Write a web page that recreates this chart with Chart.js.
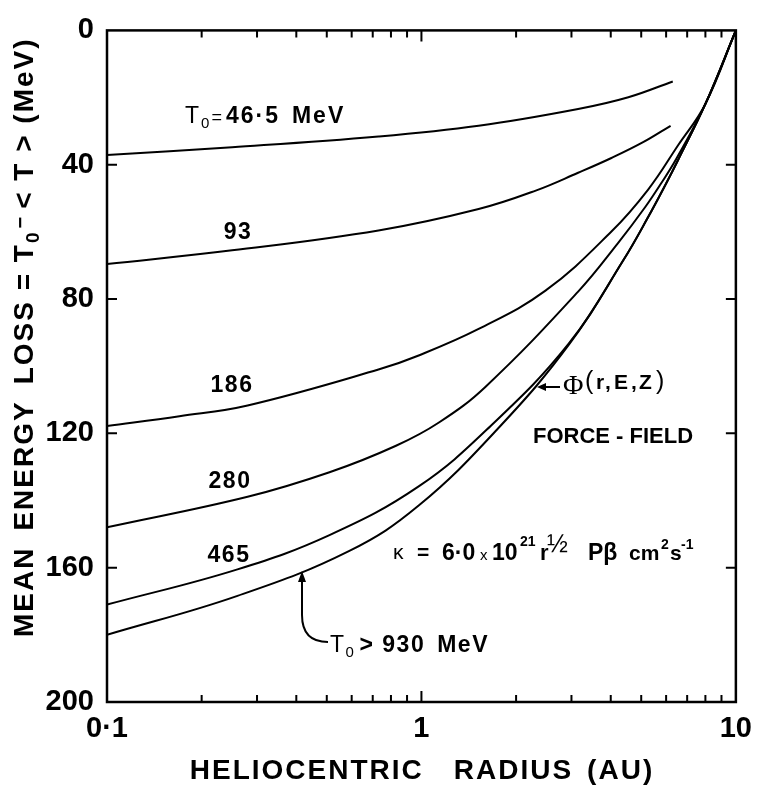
<!DOCTYPE html>
<html lang="en">
<head>
<meta charset="UTF-8">
<title>Mean energy loss vs heliocentric radius</title>
<style>
  html, body { margin: 0; padding: 0; background: #fff; }
  #chart { display: block; }
</style>
</head>
<body>
<canvas id="chart" width="762" height="786"></canvas>
<script src="https://cdn.jsdelivr.net/npm/chart.js"></script>
<script>
// values: radius in AU, loss in MeV
const rT46 = [0.1, 0.25, 0.73, 1.52, 3.15, 4.55, 6.3];
const lossT46 = [37.1, 34.8, 31.6, 28.4, 23.4, 19.9, 15.2];

const rT93 = [0.1, 0.25, 0.73, 1.52, 2.31, 3.15, 4.02, 5.07, 6.2];
const lossT93 = [69.6, 65.5, 59.6, 53.2, 47.7, 42.4, 38.0, 33.3, 28.4];

const rT186 = [0.1, 0.17, 0.28, 0.73, 0.98, 1.52, 2.48, 4.02, 5.26, 6.55, 8.0, 10];
const lossT186 = [117.8, 114.9, 111.7, 101.0, 96.8, 88.9, 77.5, 59.9, 47.4, 34.2, 21.9, 0];

const rT280 = [0.1, 0.28, 0.51, 0.83, 1.14, 1.6, 3.15, 4.23, 5.15, 5.78, 6.46, 8.0, 10];
const lossT280 = [148, 138.9, 131.6, 123.7, 116.7, 106.1, 77.8, 63.2, 52.6, 45.6, 38.3, 21.9, 0];

const rT465 = [0.1, 0.26, 0.51, 0.98, 1.66, 2.94, 4.39, 5.26, 6.0, 6.55, 8.0, 10];
const lossT465 = [171, 160.5, 150.3, 135.8, 117.8, 93.3, 68.4, 55.6, 45.6, 38.6, 21.9, 0];

const rT930 = [0.1, 0.26, 0.59, 0.98, 1.77, 2.96, 4.39, 5.26, 6.0, 6.55, 8.0, 10];
const lossT930 = [180, 168.4, 155, 141.5, 118.1, 93.3, 68.4, 55.6, 45.6, 38.6, 21.9, 0];

const xTickLabels = { 0.1: '0·1', 1: '1', 10: '10' };
const xMinorTicks = [0.2, 0.3, 0.4, 0.5, 0.6, 0.7, 0.8, 0.9, 2, 3, 4, 5, 6, 7, 8, 9];
const xMajorTicks = [1];
const yTicks = [40, 80, 120, 160];

const curves = [
  [rT46, lossT46], [rT93, lossT93], [rT186, lossT186],
  [rT280, lossT280], [rT465, lossT465], [rT930, lossT930]
];

const FAM = '"Liberation Sans", Arial, Helvetica, sans-serif';
const SERIF = '"Liberation Serif", "DejaVu Serif", serif';
function f(size, bold, fam) { return (bold ? 'bold ' : '') + size + 'px ' + (fam || FAM); }

// draw pieces of text one after another; gap = extra space after a piece
function run(ctx, x, y, parts, align, spacing) {
  ctx.letterSpacing = (spacing || 0) + 'px';
  const widths = parts.map(p => { ctx.font = p.font; return ctx.measureText(p.t).width + (p.gap || 0); });
  const total = widths.reduce((a, b) => a + b, 0);
  let cx = align === 'center' ? x - total / 2 : x;
  parts.forEach((p, i) => {
    ctx.font = p.font;
    ctx.fillText(p.t, cx, y + (p.dy || 0));
    cx += widths[i];
  });
  ctx.letterSpacing = '0px';
}

function put(ctx, t, x, y, font) { ctx.font = font; ctx.fillText(t, x, y); }

const figurePlugin = {
  id: 'figure',
  afterDraw(chart) {
    const ctx = chart.ctx;
    const a = chart.chartArea;
    const xs = chart.scales.x, ys = chart.scales.y;
    ctx.save();
    ctx.strokeStyle = '#000';
    ctx.fillStyle = '#000';

    // frame
    ctx.lineWidth = 2.5;
    ctx.strokeRect(a.left, a.top, a.right - a.left, a.bottom - a.top);

    // inward ticks
    ctx.lineWidth = 2;
    ctx.beginPath();
    xMinorTicks.forEach(v => {
      const px = xs.getPixelForValue(v);
      ctx.moveTo(px, a.bottom); ctx.lineTo(px, a.bottom - 7);
      ctx.moveTo(px, a.top); ctx.lineTo(px, a.top + 7);
    });
    xMajorTicks.forEach(v => {
      const px = xs.getPixelForValue(v);
      ctx.moveTo(px, a.bottom); ctx.lineTo(px, a.bottom - 11);
      ctx.moveTo(px, a.top); ctx.lineTo(px, a.top + 11);
    });
    yTicks.forEach(v => {
      const py = ys.getPixelForValue(v);
      ctx.moveTo(a.left, py); ctx.lineTo(a.left + 10, py);
      ctx.moveTo(a.right, py); ctx.lineTo(a.right - 10, py);
    });
    ctx.stroke();

    ctx.textBaseline = 'alphabetic';
    ctx.textAlign = 'left';

    // x axis title
    run(ctx, 422, 779, [
      { t: 'HELIOCENTRIC', font: f(28, true), gap: 30 },
      { t: 'RADIUS', font: f(28, true), gap: 14 },
      { t: '(AU)', font: f(28, true) }
    ], 'center', 2);

    // y axis title, rotated
    ctx.save();
    ctx.translate(33, 637);
    ctx.rotate(-Math.PI / 2);
    run(ctx, 0, 0, [
      { t: 'MEAN', font: f(28, true), gap: 16 },
      { t: 'ENERGY', font: f(28, true), gap: 16 },
      { t: 'LOSS = T', font: f(28, true) },
      { t: '0', font: f(19, true), dy: 6, gap: 2 },
      { t: '−', font: f(20, true), dy: -6, gap: 6 },
      { t: '< T > (MeV)', font: f(28, true) }
    ], 'left', 2);
    ctx.restore();

    // curve labels
    run(ctx, 185, 123, [
      { t: 'T', font: f(23, false) },
      { t: '0', font: f(15, false), dy: 5 },
      { t: '=', font: f(18, false), gap: 2 },
      { t: '46·5', font: f(23, true), gap: 12 },
      { t: 'MeV', font: f(23, true) }
    ], 'left', 2);
    run(ctx, 238, 239, [{ t: '93', font: f(23, true) }], 'center', 1.5);
    run(ctx, 232, 392, [{ t: '186', font: f(23, true) }], 'center', 1.5);
    run(ctx, 230, 488, [{ t: '280', font: f(23, true) }], 'center', 1.5);
    run(ctx, 229, 562, [{ t: '465', font: f(23, true) }], 'center', 1.5);

    // T0 > 930 MeV with curved arrow
    run(ctx, 330, 652, [
      { t: 'T', font: f(23, false) },
      { t: '0', font: f(15, false), dy: 5, gap: 4 },
      { t: '>', font: f(23, true), gap: 8 },
      { t: '930', font: f(23, true), gap: 12 },
      { t: 'MeV', font: f(23, true) }
    ], 'left', 1.5);
    ctx.lineWidth = 2;
    ctx.beginPath();
    ctx.moveTo(328, 642);
    ctx.bezierCurveTo(312, 642, 302, 634, 302, 615);
    ctx.lineTo(302, 580);
    ctx.stroke();
    ctx.beginPath();
    ctx.moveTo(302, 571); ctx.lineTo(298, 582); ctx.lineTo(306, 582); ctx.closePath();
    ctx.fill();

    // Phi(r,E,Z) with arrow
    ctx.beginPath();
    ctx.moveTo(560, 387); ctx.lineTo(545, 387);
    ctx.stroke();
    ctx.beginPath();
    ctx.moveTo(537, 387); ctx.lineTo(546, 383); ctx.lineTo(546, 391); ctx.closePath();
    ctx.fill();
    put(ctx, 'Φ', 563, 394, f(28, false, SERIF));
    put(ctx, '(', 585, 389, f(25, false));
    put(ctx, 'r', 596, 389, f(21, true));
    put(ctx, ',', 605, 389, f(21, true));
    put(ctx, 'E', 614, 389, f(21, true));
    put(ctx, ',', 631, 389, f(21, true));
    put(ctx, 'Z', 639, 389, f(21, true));
    put(ctx, ')', 656, 389, f(25, false));

    put(ctx, 'FORCE - FIELD', 533, 443, f(22, true));

    // diffusion coefficient
    put(ctx, 'κ', 393, 559, f(21, false));
    put(ctx, '=', 417, 559, f(21, true));
    put(ctx, '6·0', 442, 560, f(23, true));
    put(ctx, 'x', 480, 560, f(15, false));
    put(ctx, '10', 492, 560, f(23, true));
    put(ctx, '21', 520, 546, f(14, true));
    put(ctx, 'r', 540, 560, f(22, true));
    put(ctx, '½', 547, 552, f(25, false));
    put(ctx, 'Pβ', 588, 560, f(23, true));
    put(ctx, 'cm', 629, 560, f(21, true));
    put(ctx, '2', 661, 549, f(14, true));
    put(ctx, 's', 670, 560, f(21, true));
    put(ctx, '-1', 681, 549, f(14, true));

    ctx.restore();
  }
};

new Chart(document.getElementById('chart').getContext('2d'), {
  type: 'scatter',
  data: {
    datasets: curves.map(([r, loss]) => ({
      data: r.map((v, i) => ({ x: v, y: loss[i] })),
      showLine: true,
      borderColor: '#000',
      borderWidth: 2,
      pointRadius: 0,
      tension: 0.4,
      fill: false
    }))
  },
  options: {
    responsive: false,
    animation: false,
    events: [],
    layout: { padding: { left: 0, right: 24, top: 18, bottom: 0 } },
    plugins: { legend: { display: false }, tooltip: { enabled: false } },
    scales: {
      x: {
        type: 'logarithmic',
        min: 0.1,
        max: 10,
        grid: { display: false, drawTicks: false },
        border: { display: false },
        afterBuildTicks: s => { s.ticks = [0.1, 1, 10].map(v => ({ value: v })); },
        afterFit: s => { s.height = 84; },
        ticks: {
          autoSkip: false,
          maxRotation: 0,
          minRotation: 0,
          padding: 10,
          color: '#000',
          font: { family: FAM, size: 29, weight: 'bold' },
          callback: v => xTickLabels[v] || ''
        }
      },
      y: {
        type: 'linear',
        min: 0,
        max: 200,
        reverse: true,
        grid: { display: false, drawTicks: false },
        border: { display: false },
        afterFit: s => { s.width = 107; },
        ticks: {
          stepSize: 40,
          padding: 13,
          color: '#000',
          font: { family: FAM, size: 29, weight: 'bold' }
        }
      }
    }
  },
  plugins: [figurePlugin]
});
</script>
</body>
</html>
